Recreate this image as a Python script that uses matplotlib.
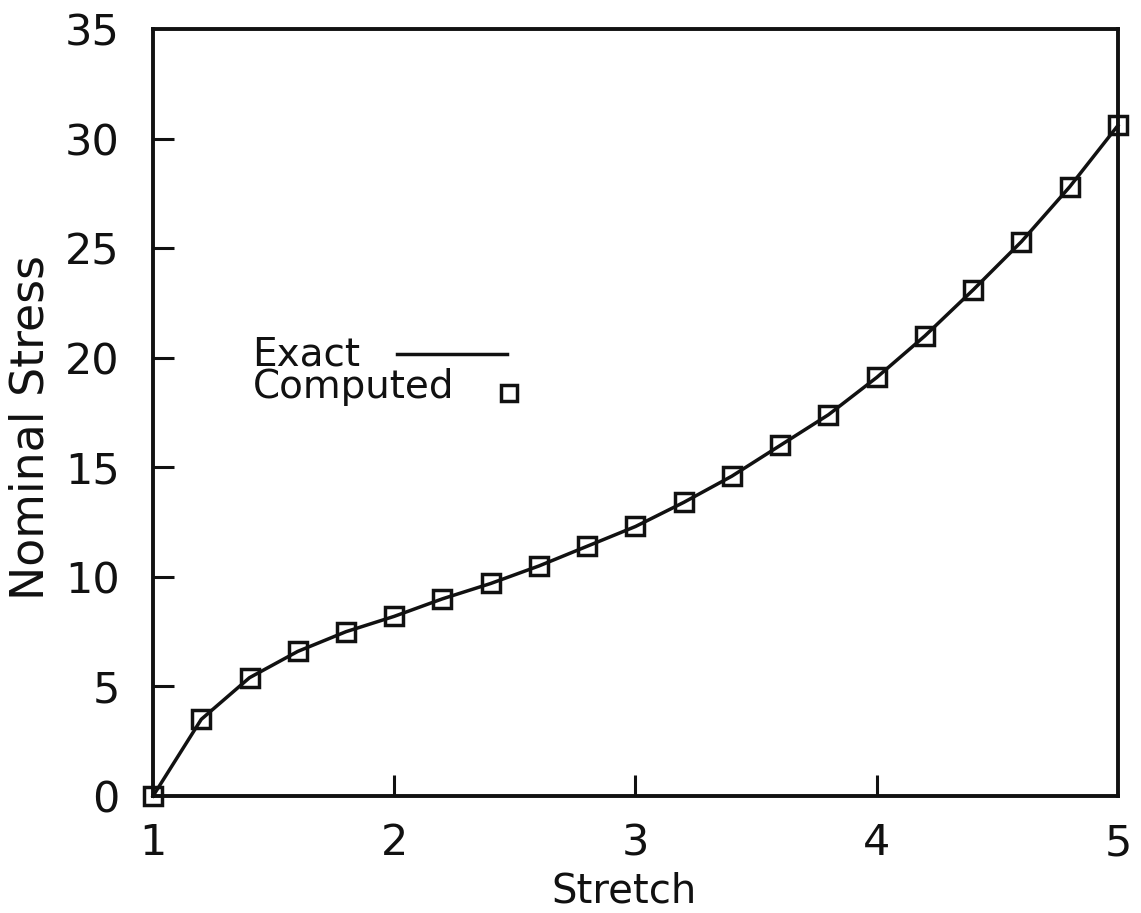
import matplotlib
matplotlib.use("Agg")
import matplotlib.pyplot as plt

# nominal stress vs stretch
stretch = [1.0, 1.2, 1.4, 1.6, 1.8, 2.0, 2.2, 2.4, 2.6, 2.8, 3.0,
           3.2, 3.4, 3.6, 3.8, 4.0, 4.2, 4.4, 4.6, 4.8, 5.0]
stress = [0.0, 3.5, 5.4, 6.6, 7.5, 8.2, 9.0, 9.7, 10.5, 11.4, 12.3,
          13.4, 14.6, 16.0, 17.4, 19.1, 21.0, 23.1, 25.3, 27.8, 30.6]
xticks = [1, 2, 3, 4, 5]
yticks = [0, 5, 10, 15, 20, 25, 30, 35]
key_labels = ["Exact", "Computed"]

INK = "#111111"
plt.rcParams["font.family"] = "DejaVu Sans"

fig = plt.figure(figsize=(11.41, 9.13), dpi=100)
ax = fig.add_axes([0.1341, 0.1281, 0.8457, 0.8401])

ax.plot(stretch, stress, color=INK, lw=2.5, clip_on=False, zorder=3)
ax.plot(stretch, stress, ls="none", marker="s", ms=13, mfc="none",
        mec=INK, mew=2.5, clip_on=False, zorder=4)

ax.set_xlim(1, 5)
ax.set_ylim(0, 35)
ax.set_xticks(xticks)
ax.set_yticks(yticks)
ax.tick_params(direction="in", length=15, width=2.2, colors=INK,
               labelsize=31, top=False, right=False)
ax.tick_params(axis="y", pad=24)
ax.tick_params(axis="x", pad=19)
# no tick marks at the axis ends, as in the original
for t in ax.xaxis.get_major_ticks()[::4] + ax.yaxis.get_major_ticks()[::7]:
    t.tick1line.set_visible(False)
for s in ax.spines.values():
    s.set_linewidth(2.8)
    s.set_color(INK)

ax.set_xlabel("Stretch", fontsize=29, color=INK)
ax.set_ylabel("Nominal Stress", fontsize=33, color=INK)
ax.xaxis.set_label_coords(0.488, -0.099)
ax.yaxis.set_label_coords(-0.126, 0.481)
ax.yaxis.label.set_va("center")

# hand-drawn key: both labels in one tight block, symbols to the right
ax.text(0.103, 0.519, "\n".join(key_labels), transform=ax.transAxes,
        fontsize=28, va="baseline", linespacing=0.82, color=INK)
ax.plot([0.253, 0.367], [0.576, 0.576], transform=ax.transAxes,
        color=INK, lw=2.5)
ax.plot([0.369], [0.525], transform=ax.transAxes, ls="none", marker="s",
        ms=11, mfc="none", mec=INK, mew=2.5)

fig.savefig("out.png", dpi=100, facecolor="white")
